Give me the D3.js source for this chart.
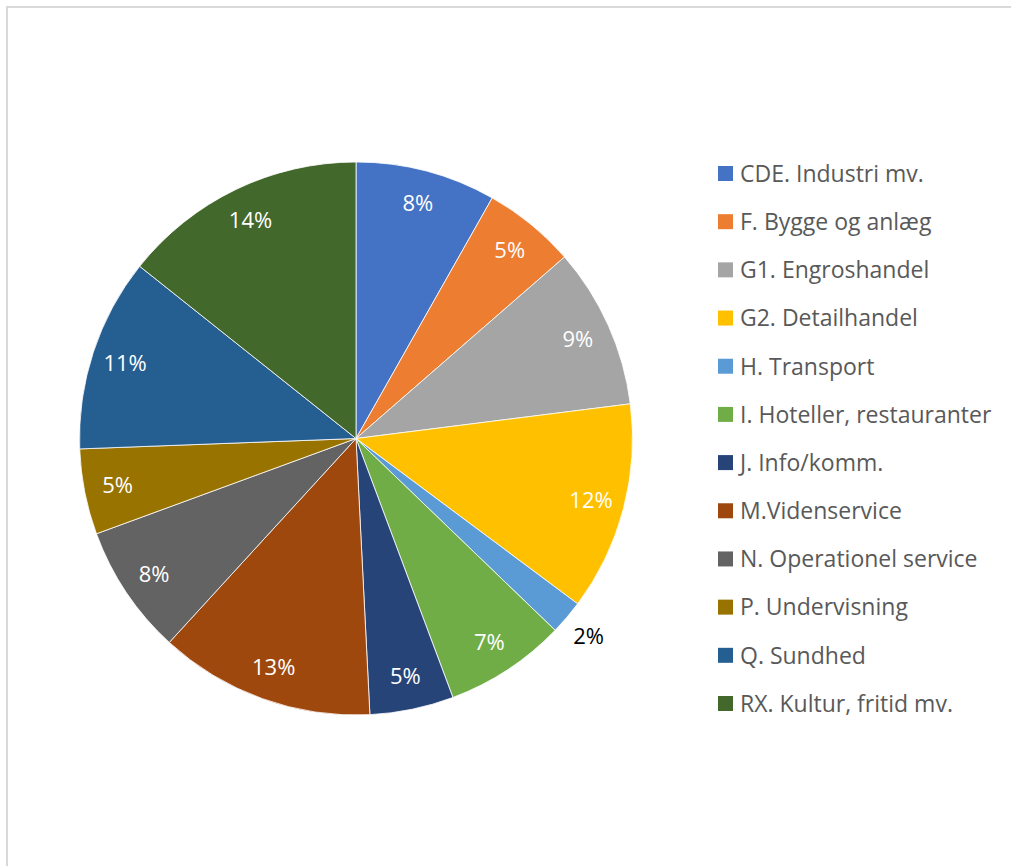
<!DOCTYPE html>
<html><head><meta charset="utf-8">
<script src="https://cdn.jsdelivr.net/npm/d3@7"></script>
<style>body{margin:0;background:#fff}svg{display:block}</style>
</head><body>
<svg id="c" width="1011" height="866"></svg>
<script>
const categories = ["CDE. Industri mv.","F. Bygge og anlæg","G1. Engroshandel","G2. Detailhandel","H. Transport","I. Hoteller, restauranter","J. Info/komm.","M.Videnservice","N. Operationel service","P. Undervisning","Q. Sundhed","RX. Kultur, fritid mv."];
const values = [8.2,5.4,9.4,12.2,2.0,7.1,4.9,12.6,7.6,5.0,11.3,14.3];
const colors = ["#4472C4","#ED7D31","#A5A5A5","#FFC000","#5B9BD5","#70AD47","#264478","#9E480E","#636363","#997300","#255E91","#43682B"];

const svg = d3.select("#c");
const font = "'Open Sans', Lato, sans-serif";
svg.append("rect").attr("x",7).attr("y",7).attr("width",1020).attr("height",880)
  .attr("fill","#fff").attr("stroke","#d9d9d9").attr("stroke-width",2);

const cx = 356, cy = 438.5, R = 276.5;
const total = d3.sum(values);
const pie = d3.pie().sort(null).value(d=>d)(values);
const arc = d3.arc().innerRadius(0).outerRadius(R);
const g = svg.append("g").attr("transform",`translate(${cx},${cy})`);
g.selectAll("path").data(pie).join("path")
  .attr("d",arc).attr("fill",(d,i)=>colors[i]).attr("stroke","#fff").attr("stroke-width",0.8);

const fmt = v => Math.round(v/total*100) + "%";
g.selectAll("text").data(pie).join("text")
  .attr("transform",(d,i)=>{
    const a=(d.startAngle+d.endAngle)/2, r = (d.data/total<0.03)? 305 : 243;
    return `translate(${Math.sin(a)*r},${-Math.cos(a)*r})`;})
  .attr("text-anchor","middle").attr("dy","0.36em")
  .attr("font-family",font).attr("font-size",22)
  .attr("fill",d=>d.data/total<0.03?"#000":"#fff")
  .text(d=>fmt(d.data));

const ly = d3.scalePoint().domain(categories).range([173.5,703.5]);
const lg = svg.append("g");
const items = lg.selectAll("g").data(categories).join("g")
  .attr("transform",d=>`translate(718,${ly(d)})`);
items.append("rect").attr("x",0).attr("y",-7.5).attr("width",15).attr("height",15).attr("fill",(d,i)=>colors[i]);
items.append("text").attr("x",22).attr("dy","0.36em").attr("font-family",font).attr("font-size",23)
  .attr("fill","#595959").text(d=>d);
</script>
</body></html>
